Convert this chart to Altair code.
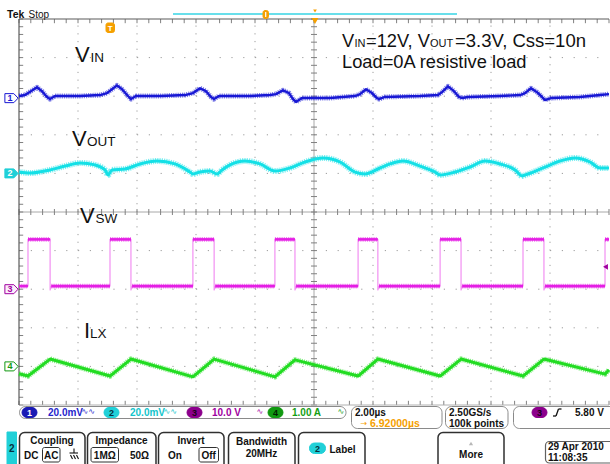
import altair as alt
import pandas as pd

W, H = 610, 464

# ---------------- timebase / graticule geometry ----------------
US_PER_DIV = 2.0
PX_PER_DIV_X = 59.0
PX_PER_DIV_Y = 38.6
TRIGGER_X = 110.0            # screen column of t = 0
GRID_X0 = 19.0               # left graticule edge
CENTER_Y = 212.0             # centre graticule row
N_DIV = 10
PX_PER_US = PX_PER_DIV_X / US_PER_DIV
GRID_LEFT = -(TRIGGER_X - GRID_X0) / PX_PER_US
GRID_RIGHT = GRID_LEFT + N_DIV * US_PER_DIV
GRID_CENTER = GRID_LEFT + N_DIV / 2 * US_PER_DIV
X_DOMAIN = [-TRIGGER_X / PX_PER_US, (W - TRIGGER_X) / PX_PER_US]
Y_DOMAIN = [-(H - CENTER_Y) / PX_PER_DIV_Y, CENTER_Y / PX_PER_DIV_Y]
XS = alt.Scale(domain=X_DOMAIN, nice=False, zero=False)
YS = alt.Scale(domain=Y_DOMAIN, nice=False, zero=False)

# ---------------- channel setup ----------------
CH_OFFSET = {"VIN": 2.95, "VOUT": 1.0, "VSW": -2.0, "ILX": -4.0}   # divisions
CH_PER_DIV = {"VIN": 20.0, "VOUT": 20.0, "VSW": 10.0, "ILX": 1.0}  # mV, mV, V, A
TRIG_LEVEL_V = 5.80

# ---------------- waveforms ----------------
# CH1  VIN ripple (mV, AC coupled)
vin_t = [-3.085, -2.88, -2.68, -2.475, -2.305, -2.136, -2.034, -1.864, -1.017, -0.339,
         -0.102, 0.068, 0.237, 0.407, 0.61, 0.712, 0.881, 1.695, 2.542, 2.814,
         3.051, 3.254, 3.424, 3.525, 3.695, 4.746, 5.424, 5.627, 5.864, 6.068,
         6.203, 6.305, 6.508, 7.458, 8.305, 8.475, 8.678, 8.881, 9.051, 9.119,
         9.322, 10.508, 11.119, 11.254, 11.458, 11.661, 11.831, 11.932, 12.136, 13.22,
         13.898, 14.068, 14.271, 14.475, 14.644, 14.746, 14.949, 15.932, 16.61, 16.915]
vin_mv = [1.1, 1.6, 3.6, 5.6, 3.6, 0.6, -0.5, 1.1, 1.1, 1.6,
          2.6, 4.6, 6.6, 4.6, 1.1, -0.5, 1.1, 1.1, 1.6, 2.6,
          5.1, 3.6, 0.6, -0.5, 1.1, 1.1, 1.6, 2.1, 4.1, 2.6,
          -0.5, -2.0, 0.05, 0.05, 1.1, 2.1, 4.6, 2.6, 0.05, -0.5,
          0.6, 1.1, 1.6, 3.1, 6.1, 3.6, 0.6, 0.05, 0.6, 1.1,
          1.6, 2.6, 5.1, 3.1, 0.6, -1.0, 0.05, 0.6, 1.6, 2.1]

# CH2  VOUT ripple (mV, AC coupled)
vout_t = [-3.085, -2.712, -2.034, -1.525, -1.017, -0.508, -0.169, -0.068, 0.068, 0.508,
          1.017, 1.593, 2.203, 2.712, 2.814, 3.051, 3.39, 3.627, 3.797, 4.068,
          4.576, 5.085, 5.593, 6.102, 6.61, 7.22, 7.797, 8.305, 8.644, 9.153,
          9.492, 9.932, 10.508, 11.017, 11.186, 11.695, 12.203, 12.712, 13.22, 13.729,
          13.966, 14.169, 14.746, 15.254, 15.763, 16.271, 16.61, 16.915]
vout_mv = [0.7, 0.2, 1.8, 3.8, 5.4, 4.4, 1.8, -0.8, 1.8, 2.3,
           4.9, 6.4, 4.9, 0.7, -0.3, 0.7, 1.2, -0.3, 1.8, 4.4,
           6.4, 4.9, 1.2, 2.8, 5.9, 8.0, 5.9, 0.7, -0.3, 2.8,
           4.9, 6.4, 3.8, 0.7, -0.8, 0.7, 3.3, 6.4, 4.9, 1.8,
           -1.3, -0.3, 3.3, 6.4, 8.0, 5.9, 2.8, 2.8]

# CH3  switch node: edge times (us) and levels (V)
vsw_rise_t = [-2.78, 0.0, 2.81, 5.59, 8.41, 11.19, 14.00, 16.78]
vsw_fall_t = [-2.03, 0.71, 3.53, 6.27, 9.08, 11.90, 14.71]
vsw_low_v, vsw_high_v, vsw_undershoot_v = 0.8, 12.9, -0.2

# CH4  inductor current (A)
ilx_t = [-3.085, -2.78, -2.03, 0.0, 0.71, 2.81, 3.53, 5.59, 6.27, 8.41,
         9.08, 11.19, 11.90, 14.00, 14.71, 16.78, 16.915]
ilx_a = [-0.19, -0.25, 0.19, -0.25, 0.19, -0.27, 0.19, -0.27, 0.17, -0.25,
         0.19, -0.25, 0.19, -0.25, 0.19, -0.20, -0.09]

# ---------------- colours ----------------
C_CH1, C_CH2, C_CH3, C_CH4 = "#1818d4", "#14e0e6", "#e41ee4", "#22dc22"
C_CH3_EDGE = "#f290f2"
C_ORANGE = "#f5a000"
T_CH1, T_CH2, T_CH3, T_CH4 = "#2626cc", "#12c4cc", "#a000a0", "#149e14"


def channel_frame(name, t, v):
    df = pd.DataFrame({"t": t, "v": v})
    df["div"] = CH_OFFSET[name] + df["v"] / CH_PER_DIV[name]
    df["i"] = range(len(df))
    return df


def trace(df, color, width, opacity=1.0, interp="linear", detail=None, dash=None):
    enc = dict(x=alt.X("t:Q", scale=XS, axis=None),
               y=alt.Y("div:Q", scale=YS, axis=None),
               order=alt.Order("i:Q"))
    if detail:
        enc["detail"] = alt.Detail(detail)
    kw = dict(color=color, strokeWidth=width, opacity=opacity, interpolate=interp,
              strokeJoin="round")
    if dash:
        kw["strokeDash"] = dash
    return alt.Chart(df).mark_line(**kw).encode(**enc)


vin = channel_frame("VIN", vin_t, vin_mv)
vout = channel_frame("VOUT", vout_t, vout_mv)
ilx = channel_frame("ILX", ilx_t, ilx_a)

# switch node vertices built from the edge list
edges = sorted([(t, "r") for t in vsw_rise_t] + [(t, "f") for t in vsw_fall_t])
pts = [(GRID_LEFT, vsw_low_v)]
for t, kind in edges:
    if kind == "r":
        pts += [(t, vsw_low_v), (t, vsw_high_v)]
    else:
        pts += [(t, vsw_high_v), (t, vsw_undershoot_v), (t + 0.04, vsw_low_v)]
pts.append((GRID_RIGHT, vsw_high_v))
vsw = channel_frame("VSW", [p[0] for p in pts], [p[1] for p in pts])
seg_rows = []
k = 0
for a, b in zip(pts[:-1], pts[1:]):
    if a[1] == b[1] and b[0] > a[0]:
        seg_rows += [(a[0], a[1], k, 0), (b[0], b[1], k, 1)]
        k += 1
vsw_seg = pd.DataFrame(seg_rows, columns=["t", "v", "seg", "i"])
vsw_seg["div"] = CH_OFFSET["VSW"] + vsw_seg["v"] / CH_PER_DIV["VSW"]

# ---------------- graticule ----------------
def rules(df, color, width=1.0, dash=None):
    kw = dict(color=color, strokeWidth=width)
    if dash:
        kw["strokeDash"] = dash
    return alt.Chart(df).mark_rule(**kw).encode(
        x=alt.X("x1:Q", scale=XS, axis=None), x2="x2:Q",
        y=alt.Y("y1:Q", scale=YS, axis=None), y2="y2:Q")


half = N_DIV / 2
v_lines = pd.DataFrame([(GRID_LEFT + US_PER_DIV * j, GRID_LEFT + US_PER_DIV * j, -half, half)
                        for j in range(1, N_DIV) if j != N_DIV // 2],
                       columns=["x1", "x2", "y1", "y2"])
h_lines = pd.DataFrame([(GRID_LEFT, GRID_RIGHT, j, j) for j in range(-4, 5) if j != 0],
                       columns=["x1", "x2", "y1", "y2"])
center_lines = pd.DataFrame([(GRID_CENTER, GRID_CENTER, -half, half),
                             (GRID_LEFT, GRID_RIGHT, 0, 0)], columns=["x1", "x2", "y1", "y2"])
border_dark = pd.DataFrame([(GRID_LEFT, GRID_RIGHT, half, half),
                            (GRID_LEFT, GRID_LEFT, -half, half)], columns=["x1", "x2", "y1", "y2"])
border_light = pd.DataFrame([(GRID_LEFT, GRID_RIGHT, -half, -half)], columns=["x1", "x2", "y1", "y2"])

tx = 3.0 / PX_PER_US
ty = 3.0 / PX_PER_DIV_Y
minor_t = [GRID_LEFT + US_PER_DIV / 5 * j for j in range(0, 5 * N_DIV + 1)]
minor_d = [-half + j / 5 for j in range(0, 5 * N_DIV + 1)]
tick_rows = []
for t in minor_t:
    tick_rows.append((t, t, -ty, ty))                  # centre row
    tick_rows.append((t, t, half, half - 1.4 * ty))    # top edge
    tick_rows.append((t, t, -half, -half + 1.4 * ty))  # bottom edge
for d in minor_d:
    tick_rows.append((GRID_CENTER - tx, GRID_CENTER + tx, d, d))   # centre column
    tick_rows.append((GRID_LEFT, GRID_LEFT + 1.4 * tx, d, d))       # left edge
ticks = pd.DataFrame(tick_rows, columns=["x1", "x2", "y1", "y2"])

grid_layers = [
    rules(v_lines, "#9c9c9c", 1.0, [1.2, PX_PER_DIV_Y / 5 - 1.2]),
    rules(h_lines, "#9c9c9c", 1.0, [1.2, PX_PER_DIV_X / 5 - 1.2]),
    rules(center_lines, "#a8a8a8", 1.0),
    rules(ticks, "#808080", 1.0),
    rules(border_light, "#b0b0b0", 1.0),
    rules(border_dark, "#5a5a5a", 1.2),
]

# each trace: a speckled halo for the noise band plus a solid core
FUZZ = [1.2, 1.0]
trace_layers = [
    trace(vin, C_CH1, 5.0, 0.55, dash=FUZZ),
    trace(vin, C_CH1, 2.4),
    trace(vout, C_CH2, 6.0, 0.55, "monotone", dash=FUZZ),
    trace(vout, C_CH2, 3.0, 1.0, "monotone"),
    trace(vsw, C_CH3_EDGE, 1.2),
    trace(vsw_seg, C_CH3, 4.6, 0.55, detail="seg:N", dash=FUZZ),
    trace(vsw_seg, C_CH3, 2.6, 1.0, detail="seg:N"),
    trace(ilx, C_CH4, 5.4, 0.55, dash=FUZZ),
    trace(ilx, C_CH4, 3.0),
]

# ---------------- screen furniture (pixel positions) ----------------
PX = dict(scale=None)


def text_layer(rows, font="Liberation Sans", weight="normal", align="left", baseline="alphabetic"):
    df = pd.DataFrame(rows, columns=["text", "x", "y", "size", "color"])
    return alt.Chart(df).mark_text(font=font, fontWeight=weight, align=align, baseline=baseline).encode(
        x=alt.X("x:Q", **PX), y=alt.Y("y:Q", **PX), text="text:N",
        size=alt.Size("size:Q", scale=None), color=alt.Color("color:N", scale=None))


def box_layer(rows, radius, width):
    df = pd.DataFrame(rows, columns=["x1", "x2", "y1", "y2", "fill", "stroke"])
    return alt.Chart(df).mark_rect(cornerRadius=radius, strokeWidth=width).encode(
        x=alt.X("x1:Q", **PX), x2="x2:Q", y=alt.Y("y1:Q", **PX), y2="y2:Q",
        fill=alt.Fill("fill:N", scale=None), stroke=alt.Stroke("stroke:N", scale=None))


def seg_layer(rows, color, width):
    df = pd.DataFrame(rows, columns=["x1", "x2", "y1", "y2"])
    return alt.Chart(df).mark_rule(color=color, strokeWidth=width).encode(
        x=alt.X("x1:Q", **PX), x2="x2:Q", y=alt.Y("y1:Q", **PX), y2="y2:Q")


def point_layer(rows, shape, size, color):
    df = pd.DataFrame(rows, columns=["x", "y"])
    return alt.Chart(df).mark_point(shape=shape, size=size, filled=True, color=color, opacity=1).encode(
        x=alt.X("x:Q", **PX), y=alt.Y("y:Q", **PX))


K = "#111111"
labels_big = [
    ("V", 75, 62, 22, K), ("IN", 90.5, 62, 13.5, K),
    ("V", 72, 146, 22, K), ("OUT", 87, 146, 13.5, K),
    ("V", 80, 223, 22, K), ("SW", 95.5, 223, 13.5, K),
    ("I", 84, 338, 22, K), ("LX", 90, 338, 13.5, K),
    ("V", 342, 47, 18.3, K), ("IN", 354.5, 47, 11, K), ("=12V, V", 366, 47, 18.3, K),
    ("OUT", 430, 47, 11, K), ("=3.3V, Css=10n", 455, 47, 18.5, K),
    ("Load=0A resistive load", 342, 68, 18.3, K),
]

status_boxes = [
    (19.5, 346, 406.5, 418.5, "#ffffff", "#8a8a8a"),
    (351.5, 442, 406.5, 428.5, "#ffffff", "#8a8a8a"),
    (445.5, 508, 406.5, 428.5, "#ffffff", "#8a8a8a"),
    (513.5, 616, 406.5, 428.5, "#ffffff", "#8a8a8a"),
]
menu_boxes = [
    (19.5, 85, 432.5, 472, "#ffffff", "#303030"),
    (87.5, 156, 432.5, 472, "#ffffff", "#303030"),
    (158.5, 224, 432.5, 472, "#ffffff", "#303030"),
    (228.5, 295, 432.5, 472, "#ffffff", "#303030"),
    (298.5, 365, 432.5, 472, "#ffffff", "#303030"),
    (438, 504, 432.5, 472, "#ffffff", "#303030"),
]
date_box = [(545.5, 616, 441.5, 463, "#ffffff", "#606060")]
option_boxes = [
    (42.5, 60, 447.5, 462, "#ffffff", "#303030"),
    (91, 118.5, 447.5, 462, "#ffffff", "#303030"),
    (199, 218.5, 447.5, 462, "#ffffff", "#303030"),
]
badges = [
    (22, 37, 407.5, 417.5, "#1a1ab4", "#1a1ab4"),
    (104, 119, 407.5, 417.5, "#20d0d8", "#20d0d8"),
    (187, 202, 407.5, 417.5, "#8c008c", "#8c008c"),
    (268, 283, 407.5, 417.5, "#119911", "#119911"),
    (532, 547, 407.5, 417.5, "#8c008c", "#8c008c"),
    (309.5, 325.5, 443, 453.5, "#20d0d8", "#20d0d8"),
]
orange_boxes = [
    (106, 114.5, 23, 32.5, C_ORANGE, C_ORANGE),
    (354, 360.5, 419, 426.5, C_ORANGE, C_ORANGE),
    (263, 268.5, 10.5, 18.5, C_ORANGE, C_ORANGE),
]
tab = [(7, 16.5, 432, 470, "#20d0d8", "#20d0d8")]

status_text = [
    ("20.0mV", 48, 415.5, 10, T_CH1), ("20.0mV", 130, 415.5, 10, T_CH2),
    ("10.0 V", 212, 415.5, 10, T_CH3), ("1.00 A", 292, 415.5, 10, T_CH4),
    ("2.00µs", 355, 415.5, 10, K), ("6.92000µs", 370, 426.5, 10.5, C_ORANGE),
    ("2.50GS/s", 449, 415.5, 10, K), ("100k points", 449, 426.5, 10, K),
    ("5.80 V", 575, 415.5, 10, K),
    ("DC", 24, 458.5, 10, K), ("50Ω", 130, 458.5, 10, K), ("On", 168, 458.5, 10, K),
    ("Label", 329.5, 452.5, 10, K),
    ("29 Apr 2010", 548, 450, 10, K), ("11:08:35", 548, 461, 10, K),
]
status_center = [
    ("Coupling", 52, 443.5, 10, K), ("Impedance", 121.5, 443.5, 10, K),
    ("Invert", 191, 443.5, 10, K), ("Bandwidth", 261.5, 445, 10, K),
    ("20MHz", 261.5, 456.5, 10, K), ("More", 471, 457.5, 10, K),
    ("AC", 51.2, 458.5, 10, K), ("1MΩ", 104.8, 458.5, 10, K), ("Off", 208.7, 458.5, 10, K),
    ("1", 29.5, 416, 9, "#ffffff"), ("2", 111.5, 416, 9, "#063040"),
    ("3", 194.5, 416, 9, "#1a001a"), ("4", 275.5, 416, 9, "#002000"),
    ("3", 539.5, 416, 9, "#1a001a"), ("2", 317.5, 452, 9, "#063040"),
    ("2", 11.8, 452, 10, "#063040"),
    ("T", 110.3, 31, 8, "#ffffff"), ("T", 357.3, 425.5, 7.5, "#ffffff"),
]
wave_marks = [
    ("∿∿", 81.5, 414, 8, T_CH1), ("∿∿", 163.5, 414, 8, T_CH2),
    ("∿", 256.5, 414, 8, T_CH3), ("∿", 337.5, 414, 8, T_CH4),
    ("→", 360.5, 425.5, 8, C_ORANGE),
]
header_text = [("Tek", 7, 18, 10.5, K)]
header_text2 = [("Stop", 28.5, 18, 10, K)]

furniture = [
    seg_layer([(173, 457, 14, 14)], "#36d4e4", 1.5),
    box_layer(orange_boxes, 2, 1),
    seg_layer([(265.7, 265.7, 12, 17)], "#ffffff", 1.2),
    point_layer([(315, 11)], "triangle-down", 14, C_ORANGE),
    point_layer([(315, 21)], "triangle-down", 45, C_ORANGE),
    point_layer([(366.5, 421.5)], "triangle-down", 14, C_ORANGE),
    box_layer(status_boxes, 6, 1),
    box_layer(tab, 0, 1),
    box_layer(menu_boxes, 5, 1.5),
    box_layer(date_box, 4, 1.2),
    box_layer(option_boxes, 2, 1),
    box_layer(badges, 5, 1),
    point_layer([(471, 443.5)], "triangle-up", 18, "#b8b8b8"),
    # ground symbol
    seg_layer([(69.5, 78, 453, 453), (74, 74, 448.5, 453), (70.5, 72.5, 455, 459),
               (73.5, 75.5, 455, 459), (76.5, 78.5, 455, 459)], K, 1.1),
    # rising-edge trigger glyph
    seg_layer([(553, 556, 416, 416), (556, 558.5, 416, 409), (558.5, 561.5, 409, 409)], K, 1.3),
    text_layer(labels_big),
    text_layer(status_text, weight="bold"),
    text_layer(status_center, weight="bold", align="center"),
    text_layer(wave_marks, font="DejaVu Sans"),
    text_layer(header_text, weight="bold"),
    text_layer(header_text2),
]

# channel ground markers on the left edge and trigger level on the right
PENTA = "M -1 -0.68 L 0.35 -0.68 L 1 0 L 0.35 0.68 L -1 0.68 Z"
mk = pd.DataFrame({
    "x": [11.5, 11.5, 11.5, 11.5],
    "div": [CH_OFFSET["VIN"], CH_OFFSET["VOUT"], CH_OFFSET["VSW"], CH_OFFSET["ILX"]],
    "fill": ["#ffffff", "#20d0d8", "#fbeefb", "#ffffff"],
    "stroke": [C_CH1, "#20d0d8", "#a000a0", "#119911"],
    "label": ["1", "2", "3", "4"],
    "tcolor": [C_CH1, "#ffffff", "#a000a0", "#119911"],
})
markers = alt.Chart(mk).mark_point(shape=PENTA, size=175, filled=True, strokeWidth=1, opacity=1).encode(
    x=alt.X("x:Q", scale=None), y=alt.Y("div:Q", scale=YS, axis=None),
    fill=alt.Fill("fill:N", scale=None), stroke=alt.Stroke("stroke:N", scale=None))
marker_text = alt.Chart(mk).mark_text(font="Liberation Sans", fontWeight="bold", fontSize=9,
                                      align="center", baseline="middle", dx=-1.5).encode(
    x=alt.X("x:Q", scale=None), y=alt.Y("div:Q", scale=YS, axis=None),
    text="label:N", color=alt.Color("tcolor:N", scale=None))
trig = pd.DataFrame({"x": [605.5], "div": [CH_OFFSET["VSW"] + TRIG_LEVEL_V / CH_PER_DIV["VSW"]]})
trig_mark = alt.Chart(trig).mark_point(shape="triangle-left", size=32, filled=True,
                                       color="#a000a0", opacity=1).encode(
    x=alt.X("x:Q", scale=None), y=alt.Y("div:Q", scale=YS, axis=None))

chart = alt.layer(
    *grid_layers, *trace_layers, markers, marker_text, trig_mark, *furniture
).resolve_scale(
    x="independent", y="independent"
).properties(
    width=W, height=H, padding=0, autosize="none", background="white"
).configure_view(stroke=None)

chart.save("out.html", embed_options={"renderer": "svg", "actions": False})
